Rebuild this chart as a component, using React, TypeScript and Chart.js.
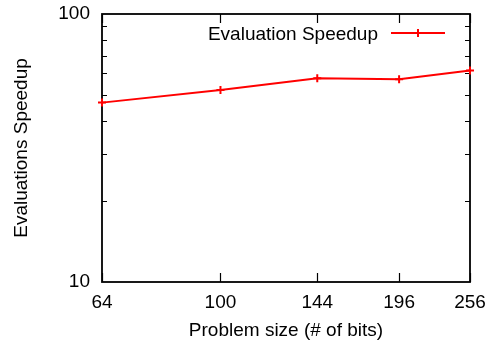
import React, { useEffect, useRef } from "react";
import { Chart, registerables } from "chart.js";

Chart.register(...registerables);

// ---- data ----
const problemSizes = [64, 100, 144, 196, 256];
const speedups = [46.7, 52.0, 57.6, 57.1, 61.5];
const xTickValues = [64, 100, 144, 196, 256];
const yTickValues = [10, 100];
const yMinorTicks = [20, 30, 40, 50, 60, 70, 80, 90];
const seriesLabel = "Evaluation Speedup";
const xTitle = "Problem size (# of bits)";
const yTitle = "Evaluations Speedup";

const FONT = "'Liberation Sans', Arial, Helvetica, sans-serif";
const RED = "#ff0000";

const framePlugin = {
  id: "frame",
  beforeDatasetsDraw(chart: any) {
    const { ctx, chartArea } = chart;
    const { left, right, top, bottom } = chartArea;
    const xs = chart.scales.x;
    const ys = chart.scales.y;
    ctx.save();
    ctx.strokeStyle = "#000";
    ctx.lineWidth = 1.8;
    ctx.strokeRect(left, top, right - left, bottom - top);
    ctx.lineWidth = 1.2;
    ctx.beginPath();
    for (const v of xTickValues) {
      const px = Math.round(xs.getPixelForValue(v)) + 0.5;
      ctx.moveTo(px, bottom);
      ctx.lineTo(px, bottom - 9);
      ctx.moveTo(px, top);
      ctx.lineTo(px, top + 9);
    }
    for (const v of yMinorTicks) {
      const py = Math.round(ys.getPixelForValue(v)) + 0.5;
      ctx.moveTo(left, py);
      ctx.lineTo(left + 5, py);
      ctx.moveTo(right, py);
      ctx.lineTo(right - 5, py);
    }
    ctx.stroke();
    ctx.restore();
  },
};

const legendPlugin = {
  id: "gnuLegend",
  afterDatasetsDraw(chart: any) {
    const { ctx, chartArea } = chart;
    const { right, top } = chartArea;
    ctx.save();
    ctx.font = `19px ${FONT}`;
    ctx.fillStyle = "#000";
    ctx.textAlign = "right";
    ctx.textBaseline = "alphabetic";
    ctx.fillText(seriesLabel, right - 92, top + 25.6);
    const cy = top + 19;
    ctx.strokeStyle = RED;
    ctx.lineWidth = 2;
    ctx.beginPath();
    ctx.moveTo(right - 79, cy);
    ctx.lineTo(right - 25, cy);
    ctx.moveTo(right - 52, cy - 4);
    ctx.lineTo(right - 52, cy + 4);
    ctx.stroke();
    ctx.restore();
  },
};

export default function App() {
  const canvasRef = useRef<HTMLCanvasElement | null>(null);

  useEffect(() => {
    if (!canvasRef.current) return;
    const font = { family: FONT, size: 19 };
    const chart = new Chart(canvasRef.current, {
      type: "line",
      data: {
        datasets: [
          {
            label: seriesLabel,
            data: problemSizes.map((x, i) => ({ x, y: speedups[i] })),
            borderColor: RED,
            backgroundColor: RED,
            borderWidth: 2,
            pointStyle: "cross",
            pointRadius: 4,
            pointBorderWidth: 2,
            pointBorderColor: RED,
            tension: 0,
            clip: false as any,
          },
        ],
      },
      options: {
        responsive: false,
        animation: false,
        events: [],
        layout: { padding: { top: 14, right: 24, left: 0, bottom: 0 } },
        plugins: {
          legend: { display: false },
          tooltip: { enabled: false },
        },
        scales: {
          x: {
            type: "logarithmic",
            min: 64,
            max: 256,
            afterBuildTicks: (s: any) => {
              s.ticks = xTickValues.map((v) => ({ value: v }));
            },
            afterFit: (s: any) => {
              s.height = 61;
              s.paddingLeft = 0;
              s.paddingRight = 0;
            },
            grid: { display: false, drawTicks: false },
            border: { display: false },
            ticks: {
              autoSkip: false,
              maxRotation: 0,
              padding: 9,
              color: "#000",
              font,
              callback: (v: any) => String(v),
            },
            title: {
              display: true,
              text: xTitle,
              color: "#000",
              font,
              padding: { top: 0, bottom: 1 },
            },
          },
          y: {
            type: "logarithmic",
            min: 10,
            max: 100,
            afterBuildTicks: (s: any) => {
              s.ticks = yTickValues.map((v) => ({ value: v }));
            },
            afterFit: (s: any) => {
              s.width = 102;
              s.paddingTop = 0;
              s.paddingBottom = 0;
            },
            grid: { display: false, drawTicks: false },
            border: { display: false },
            ticks: {
              padding: 12,
              color: "#000",
              font,
              callback: (v: any) => String(v),
            },
            title: {
              display: true,
              text: yTitle,
              color: "#000",
              font,
              padding: { top: 10.6, bottom: 0 },
            },
          },
        },
      } as any,
      plugins: [framePlugin, legendPlugin],
    });
    return () => chart.destroy();
  }, []);

  return (
    <div style={{ position: "absolute", left: 0, top: 0, width: 494, height: 343, background: "#fff" }}>
      <canvas ref={canvasRef} width={494} height={343} style={{ display: "block" }} />
    </div>
  );
}
